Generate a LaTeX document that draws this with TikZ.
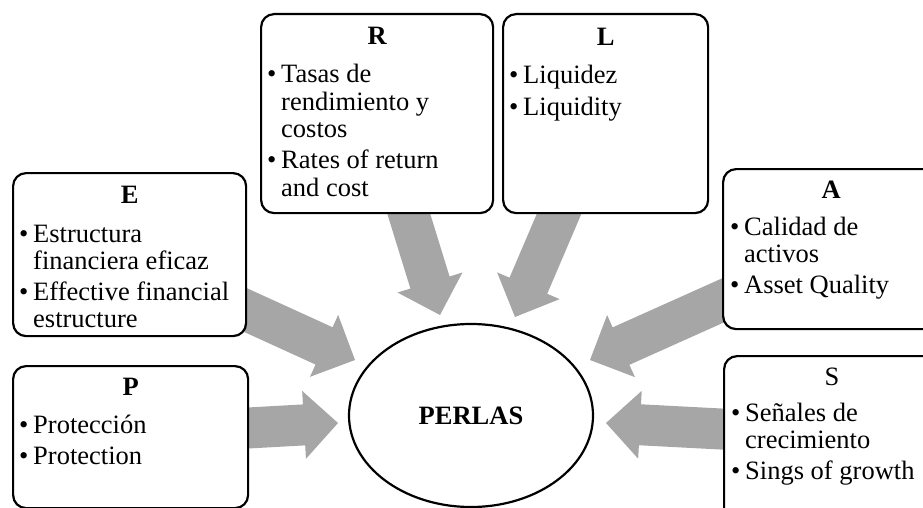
\documentclass[tikz,border=0pt]{standalone}
\usepackage{fontspec}
\setmainfont{Liberation Serif}
\usetikzlibrary{calc,shapes.geometric}

\definecolor{arrowgray}{RGB}{166,166,166}

% bullet item with hanging indent, and the small gap between items
\newcommand\pitem[1]{\par\hangindent=14pt\hangafter=1\noindent\makebox[14pt][l]{\textbullet}#1}
\newcommand\pgap{\par\vspace{4pt}}
\newcommand\nl{\break}
\newcommand\itemtext[1]{\parbox[t]{240pt}{\fontsize{26.5}{27.3}\selectfont\raggedright #1}}

% wide block arrow from tail coordinate #1 to tip coordinate #2
\newcommand\blockarrow[2]{%
  \coordinate (#2-base) at ($(#2)!34pt!(#1)$);
  \fill[arrowgray]
    ($(#1)!20.5pt!90:(#2)$) -- ($(#2-base)!20.5pt!90:(#2)$) --
    ($(#2-base)!34pt!90:(#2)$) -- (#2) --
    ($(#2-base)!34pt!-90:(#2)$) -- ($(#2-base)!20.5pt!-90:(#2)$) --
    ($(#1)!20.5pt!-90:(#2)$) -- cycle;
}

\begin{document}
\begin{tikzpicture}[x=1pt,y=-1pt,
  box/.style={draw, line width=2.2pt, rounded corners=13pt, fill=white,
    anchor=north west, inner sep=0pt},
  head/.style={anchor=base, inner sep=0pt,
    font=\fontsize{26.5}{27}\selectfont\bfseries},
  headplain/.style={anchor=base, inner sep=0pt,
    font=\fontsize{26.5}{27}\selectfont},
  items/.style={anchor=base west, inner sep=0pt},
  hub/.style={draw, ellipse, line width=2.2pt, fill=white, inner sep=0pt,
    minimum width=244pt, minimum height=183pt,
    font=\fontsize{26.5}{27}\selectfont\bfseries}]

\useasboundingbox (0,0) rectangle (923,508);
\clip (0,0) rectangle (923,508);

% arrow tails (hidden under the boxes) and tips (near the hub)
\coordinate (tE) at (230,303);   \coordinate (hE) at (355,360);
\coordinate (tR) at (404.5,200); \coordinate (hR) at (440,315);
\coordinate (tL) at (565,200);   \coordinate (hL) at (515,317);
\coordinate (tA) at (735,295);   \coordinate (hA) at (590,360);
\coordinate (tS) at (740,430);   \coordinate (hS) at (606,423);
\coordinate (tP) at (230,429);   \coordinate (hP) at (338,423);

\blockarrow{tE}{hE}
\blockarrow{tR}{hR}
\blockarrow{tL}{hL}
\blockarrow{tA}{hA}
\blockarrow{tS}{hS}
\blockarrow{tP}{hP}

% E
\node[box, minimum width=233pt, minimum height=163pt] (E) at (12,172) {};
\node[head] (E-title) at ($(E.north)+(0,31)$) {E};
\node[items] (E-items) at ($(E.north west)+(7,70)$)
  {\itemtext{\pitem{Estructura\nl financiera eficaz}\pgap\pitem{Effective financial\nl estructure}}};

% R
\node[box, minimum width=232pt, minimum height=199pt] (R) at (260,13) {};
\node[head] (R-title) at ($(R.north)+(0,32)$) {R};
\node[items] (R-items) at ($(R.north west)+(7,70)$)
  {\itemtext{\pitem{Tasas de\nl rendimiento y\nl costos}\pgap\pitem{Rates of return\nl and cost}}};

% L
\node[box, minimum width=205pt, minimum height=199pt] (L) at (502,13) {};
\node[head] (L-title) at ($(L.north)+(0,33)$) {L};
\node[items] (L-items) at ($(L.north west)+(7,71)$)
  {\itemtext{\pitem{Liquidez}\pgap\pitem{Liquidity}}};

% A
\node[box, minimum width=216pt, minimum height=160pt] (A) at (722,168) {};
\node[head] (A-title) at ($(A.north)+(0,30)$) {A};
\node[items] (A-items) at ($(A.north west)+(8,67)$)
  {\itemtext{\pitem{Calidad de\nl activos}\pgap\pitem{Asset Quality}}};

% S
\node[box, minimum width=216pt, minimum height=170pt] (S) at (723,355) {};
\node[headplain] (S-title) at ($(S.north)+(0,30)$) {S};
\node[items] (S-items) at ($(S.north west)+(8,66)$)
  {\itemtext{\pitem{Señales de\nl crecimiento}\pgap\pitem{Sings of growth}}};

% P
\node[box, minimum width=235pt, minimum height=142pt] (P) at (12,365) {};
\node[head] (P-title) at ($(P.north)+(0,30)$) {P};
\node[items] (P-items) at ($(P.north west)+(7,68)$)
  {\itemtext{\pitem{Protección}\pgap\pitem{Protection}}};

% hub
\node[hub] (perlas) at (471,415.5) {PERLAS};

\end{tikzpicture}
\end{document}
